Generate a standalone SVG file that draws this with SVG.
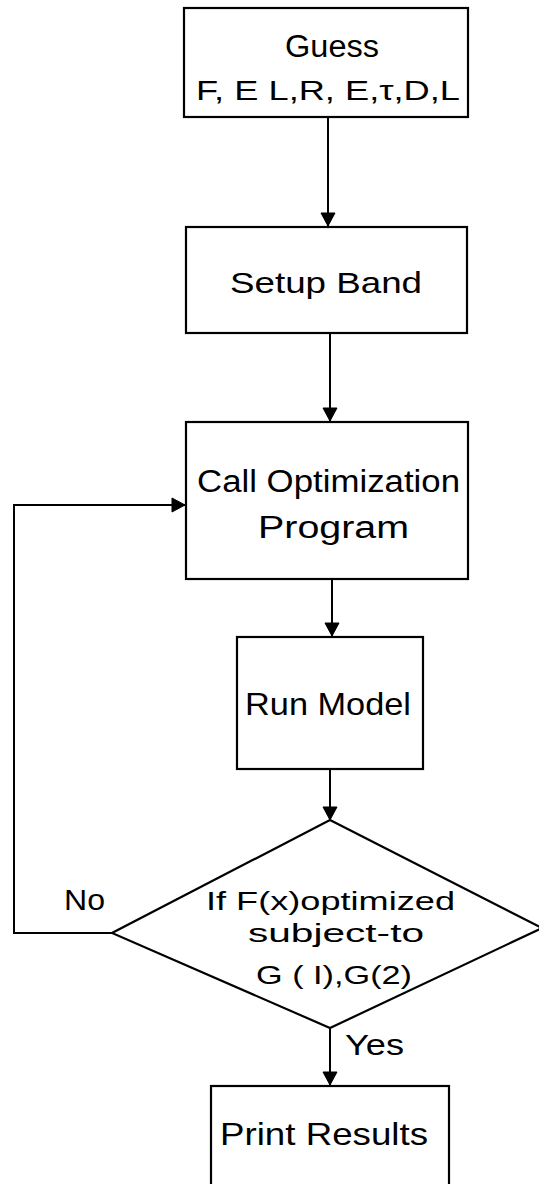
<svg xmlns="http://www.w3.org/2000/svg" width="539" height="1184" viewBox="0 0 539 1184">
<style>
.box{fill:#fff;stroke:#000;stroke-width:2.2}
.ln{fill:none;stroke:#000;stroke-width:2}
.ah{fill:#000;stroke:#000;stroke-width:1}
.t{font-family:"Liberation Sans",Arial,sans-serif;fill:#000}
</style>
<rect width="539" height="1184" fill="#fff"/>
<g id="connectors">
<path class="ln" d="M328,117 V226"/>
<path class="ah" d="M321,213 L335,213 L328,226 Z"/>
<path class="ln" d="M330,333 V421"/>
<path class="ah" d="M323,408 L337,408 L330,421 Z"/>
<path class="ln" d="M332,579 V636"/>
<path class="ah" d="M325,623 L339,623 L332,636 Z"/>
<path class="ln" d="M330,769 V820"/>
<path class="ah" d="M323,807 L337,807 L330,820 Z"/>
<path class="ln" d="M330,1028 V1085"/>
<path class="ah" d="M323,1072 L337,1072 L330,1085 Z"/>
<path class="ln" d="M112,933 H14 V505 H185"/>
<path class="ah" d="M172,498 L185,505 L172,512 Z"/>
</g>
<g id="guess">
<rect class="box" x="184" y="8" width="284" height="109"/>
<text class="t" x="285" y="57" font-size="31" textLength="94" lengthAdjust="spacingAndGlyphs">Guess</text>
<text class="t" x="196" y="100" font-size="28" textLength="264" lengthAdjust="spacingAndGlyphs">F, E L,R, E,τ,D,L</text>
</g>
<g id="setup">
<rect class="box" x="186" y="227" width="281" height="106"/>
<text class="t" x="230" y="293" font-size="30" textLength="192" lengthAdjust="spacingAndGlyphs">Setup Band</text>
</g>
<g id="callopt">
<rect class="box" x="186" y="422" width="282" height="157"/>
<text class="t" x="197" y="492" font-size="31" textLength="263" lengthAdjust="spacingAndGlyphs">Call Optimization</text>
<text class="t" x="258" y="538" font-size="31" textLength="151" lengthAdjust="spacingAndGlyphs">Program</text>
</g>
<g id="runmodel">
<rect class="box" x="237" y="637" width="186" height="132"/>
<text class="t" x="245" y="715" font-size="32" textLength="166" lengthAdjust="spacingAndGlyphs">Run Model</text>
</g>
<g id="decision">
<path class="box" d="M330,820 L542,928 L330,1028 L112,933 Z"/>
<text class="t" x="206" y="910" font-size="26" textLength="249" lengthAdjust="spacingAndGlyphs">If F(x)optimized</text>
<text class="t" x="248" y="942" font-size="26" textLength="176" lengthAdjust="spacingAndGlyphs">subject-to</text>
<text class="t" x="256" y="984" font-size="26" textLength="156" lengthAdjust="spacingAndGlyphs">G ( I),G(2)</text>
</g>
<g id="labels">
<text class="t" x="64" y="910" font-size="30" textLength="41" lengthAdjust="spacingAndGlyphs">No</text>
<text class="t" x="345" y="1055" font-size="30" textLength="59" lengthAdjust="spacingAndGlyphs">Yes</text>
</g>
<g id="print">
<rect class="box" x="211" y="1086" width="238" height="110"/>
<text class="t" x="220" y="1145" font-size="32" textLength="208" lengthAdjust="spacingAndGlyphs">Print Results</text>
</g>
</svg>
